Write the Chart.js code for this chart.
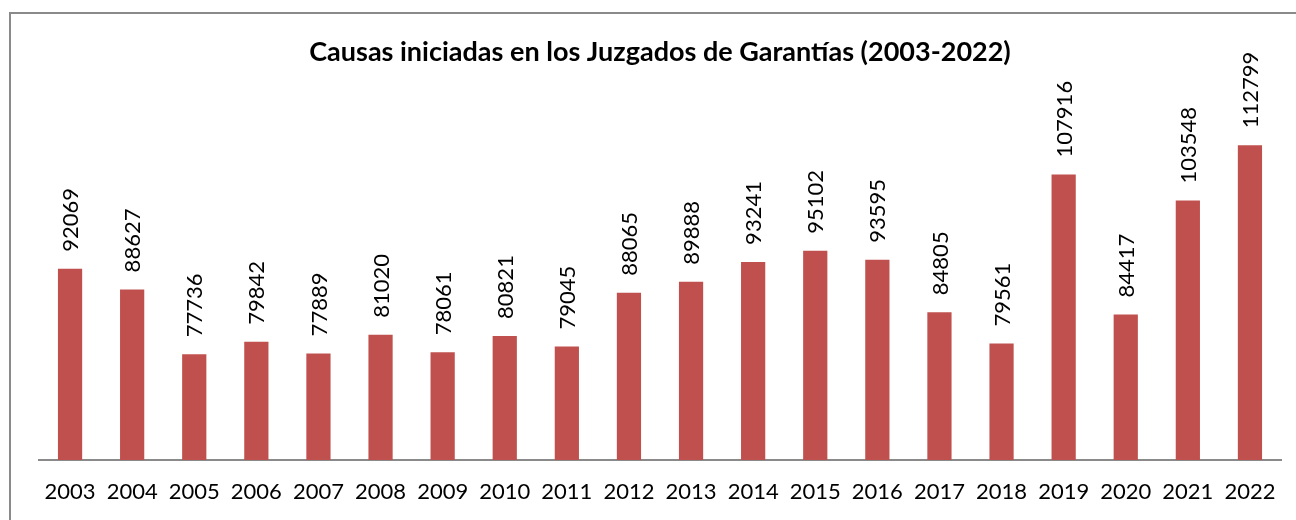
<!DOCTYPE html>
<html>
<head>
<meta charset="utf-8">
<script src="https://cdn.jsdelivr.net/npm/chart.js@4"></script>
<style>
  html, body { margin: 0; padding: 0; background: #fff; overflow: hidden; }
  #wrap { position: relative; width: 1296px; height: 520px; }
  #frame { position: absolute; left: 9px; top: 12px; width: 1400px; height: 600px;
           border: 2px solid #8a8a8a; box-sizing: border-box; pointer-events: none; }
</style>
</head>
<body>
<div id="wrap">
  <canvas id="barChartCausas" width="1296" height="520"></canvas>
  <div id="frame"></div>
</div>
<script>
var years = ['2003', '2004', '2005', '2006', '2007', '2008', '2009', '2010', '2011', '2012',
             '2013', '2014', '2015', '2016', '2017', '2018', '2019', '2020', '2021', '2022'];
var causas = [92069, 88627, 77736, 79842, 77889, 81020, 78061, 80821, 79045, 88065,
              89888, 93241, 95102, 93595, 84805, 79561, 107916, 84417, 103548, 112799];
var chartTitle = 'Causas iniciadas en los Juzgados de Garantías (2003-2022)';

// etiquetas verticales encima de cada barra
var verticalLabels = {
  id: 'verticalLabels',
  afterDatasetsDraw: function(chart) {
    var ctx = chart.ctx;
    var meta = chart.getDatasetMeta(0);
    ctx.save();
    ctx.fillStyle = '#000';
    ctx.font = '22px Lato';
    ctx.textAlign = 'left';
    ctx.textBaseline = 'middle';
    meta.data.forEach(function(bar, i) {
      ctx.save();
      ctx.translate(bar.x + 1, bar.y - 17);
      ctx.rotate(-Math.PI / 2);
      ctx.fillText(String(chart.data.datasets[0].data[i]), 0, 0);
      ctx.restore();
    });
    ctx.restore();
  }
};

var ctx = document.getElementById('barChartCausas').getContext('2d');
var barChartCausas = new Chart(ctx, {
  type: 'bar',
  data: {
    labels: years,
    datasets: [{
      label: 'Causas',
      data: causas,
      backgroundColor: '#C0504D',
      barPercentage: 0.39,
      categoryPercentage: 1.0
    }]
  },
  options: {
    responsive: false,
    animation: false,
    scales: {
      x: {
        grid: { display: false, drawTicks: false },
        border: { display: true, color: '#8a8a8a', width: 2 },
        ticks: {
          color: '#000',
          padding: 19,
          maxRotation: 0,
          autoSkip: false,
          font: { family: 'Lato', size: 22 }
        },
        afterFit: function(scale) {
          scale.height = 60;
        }
      },
      y: {
        display: false,
        min: 60000,
        max: 120000
      }
    },
    plugins: {
      legend: { display: false },
      tooltip: { enabled: false },
      title: {
        display: true,
        text: chartTitle,
        color: '#000',
        font: { family: 'Lato', size: 27, weight: 'bold' },
        padding: { top: 36, bottom: 34 }
      }
    },
    layout: {
      padding: { left: 39, right: 15, top: 0, bottom: 0 }
    }
  },
  plugins: [verticalLabels]
});
</script>
</body>
</html>
